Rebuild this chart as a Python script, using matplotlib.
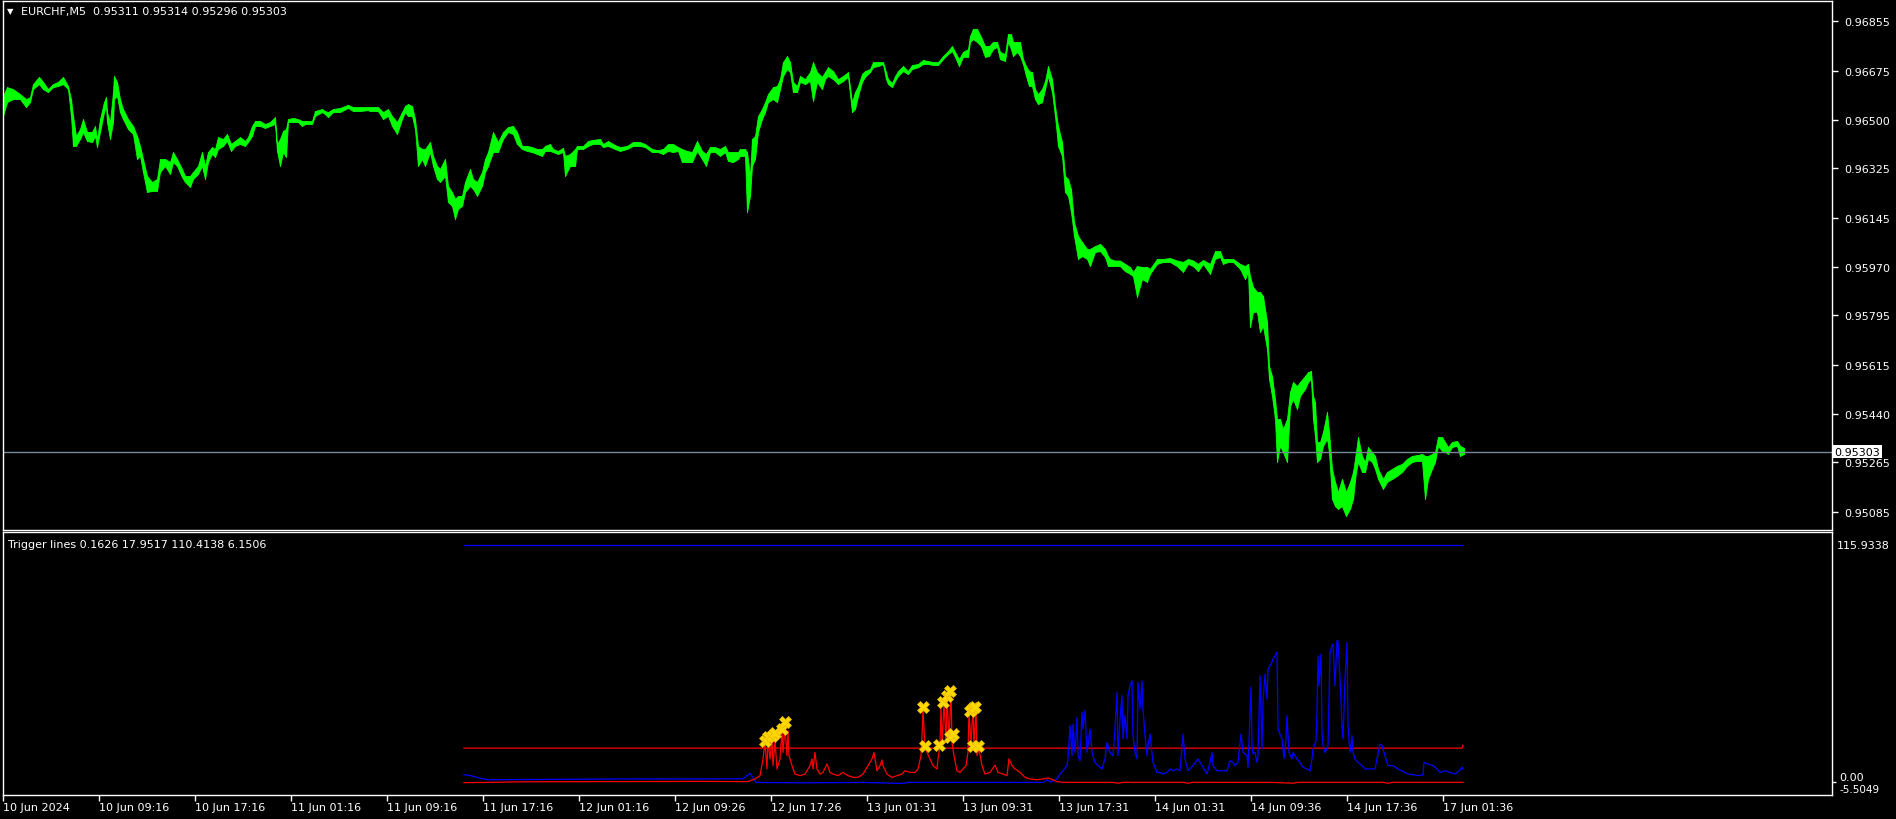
import numpy as np
import matplotlib.pyplot as plt

# EURCHF M5 bars, sampled: (bar index, high, low)
price_rows = [
    (0, 0.96585, 0.96513), (4, 0.96617, 0.96563), (10, 0.96610, 0.96574), (17, 0.96592, 0.96574),
    (23, 0.96574, 0.96545), (27, 0.96581, 0.96563), (30, 0.96628, 0.96610), (36, 0.96654, 0.96628),
    (40, 0.96636, 0.96610), (45, 0.96610, 0.96599), (50, 0.96628, 0.96617), (55, 0.96636, 0.96621),
    (60, 0.96654, 0.96628), (65, 0.96621, 0.96610), (68, 0.96574, 0.96513), (70, 0.96513, 0.96405),
    (73, 0.96441, 0.96405), (77, 0.96466, 0.96430), (80, 0.96502, 0.96455), (84, 0.96455, 0.96423),
    (89, 0.96455, 0.96419), (92, 0.96477, 0.96441), (94, 0.96430, 0.96401), (97, 0.96502, 0.96455),
    (101, 0.96563, 0.96527), (103, 0.96581, 0.96549), (104, 0.96527, 0.96491), (107, 0.96491, 0.96430),
    (110, 0.96599, 0.96491), (111, 0.96657, 0.96574), (114, 0.96636, 0.96585), (117, 0.96574, 0.96527),
    (120, 0.96538, 0.96502), (125, 0.96502, 0.96466), (130, 0.96477, 0.96448), (134, 0.96441, 0.96358),
    (137, 0.96405, 0.96369), (140, 0.96358, 0.96311), (144, 0.96297, 0.96239), (149, 0.96275, 0.96243),
    (154, 0.96286, 0.96243), (157, 0.96358, 0.96311), (162, 0.96358, 0.96333), (167, 0.96347, 0.96304),
    (170, 0.96383, 0.96347), (174, 0.96358, 0.96333), (179, 0.96322, 0.96293), (182, 0.96297, 0.96275),
    (187, 0.96297, 0.96257), (190, 0.96311, 0.96286), (195, 0.96333, 0.96304), (199, 0.96383, 0.96333),
    (202, 0.96333, 0.96286), (205, 0.96383, 0.96347), (209, 0.96401, 0.96376), (212, 0.96394, 0.96365),
    (215, 0.96437, 0.96394), (220, 0.96430, 0.96405), (224, 0.96448, 0.96423), (228, 0.96412, 0.96387),
    (232, 0.96423, 0.96405), (237, 0.96437, 0.96412), (242, 0.96423, 0.96405), (245, 0.96437, 0.96419),
    (249, 0.96477, 0.96441), (252, 0.96495, 0.96477), (257, 0.96495, 0.96477), (262, 0.96484, 0.96470),
    (267, 0.96491, 0.96477), (272, 0.96509, 0.96484), (274, 0.96412, 0.96387), (277, 0.96430, 0.96333),
    (280, 0.96459, 0.96383), (283, 0.96466, 0.96365), (285, 0.96502, 0.96491), (290, 0.96506, 0.96491),
    (295, 0.96502, 0.96491), (299, 0.96495, 0.96477), (302, 0.96495, 0.96484), (309, 0.96495, 0.96484),
    (312, 0.96531, 0.96513), (319, 0.96538, 0.96527), (322, 0.96531, 0.96520), (325, 0.96527, 0.96509),
    (330, 0.96538, 0.96527), (337, 0.96542, 0.96527), (345, 0.96553, 0.96542), (350, 0.96545, 0.96531),
    (357, 0.96545, 0.96531), (365, 0.96545, 0.96534), (367, 0.96545, 0.96531), (375, 0.96545, 0.96531),
    (380, 0.96527, 0.96502), (385, 0.96538, 0.96513), (389, 0.96513, 0.96477), (394, 0.96491, 0.96448),
    (399, 0.96527, 0.96502), (402, 0.96549, 0.96527), (405, 0.96556, 0.96513), (409, 0.96549, 0.96513),
    (412, 0.96502, 0.96466), (415, 0.96405, 0.96333), (419, 0.96394, 0.96358), (422, 0.96394, 0.96333),
    (427, 0.96419, 0.96383), (430, 0.96369, 0.96333), (434, 0.96333, 0.96286), (437, 0.96322, 0.96275),
    (442, 0.96358, 0.96297), (445, 0.96261, 0.96203), (449, 0.96239, 0.96189), (452, 0.96214, 0.96142),
    (455, 0.96225, 0.96178), (459, 0.96225, 0.96189), (462, 0.96275, 0.96239), (467, 0.96322, 0.96261),
    (470, 0.96286, 0.96250), (474, 0.96275, 0.96225), (479, 0.96311, 0.96261), (482, 0.96358, 0.96311),
    (485, 0.96383, 0.96333), (490, 0.96455, 0.96383), (495, 0.96419, 0.96383), (500, 0.96455, 0.96430),
    (505, 0.96473, 0.96455), (510, 0.96477, 0.96448), (514, 0.96455, 0.96412), (519, 0.96405, 0.96394),
    (524, 0.96405, 0.96387), (529, 0.96401, 0.96383), (534, 0.96394, 0.96376), (539, 0.96394, 0.96369),
    (542, 0.96405, 0.96387), (547, 0.96412, 0.96387), (550, 0.96394, 0.96383), (555, 0.96387, 0.96376),
    (560, 0.96398, 0.96383), (562, 0.96369, 0.96297), (567, 0.96376, 0.96333), (572, 0.96394, 0.96333),
    (574, 0.96405, 0.96394), (580, 0.96405, 0.96394), (585, 0.96423, 0.96405), (590, 0.96427, 0.96412),
    (597, 0.96430, 0.96412), (600, 0.96412, 0.96401), (605, 0.96423, 0.96405), (612, 0.96408, 0.96394),
    (617, 0.96401, 0.96387), (624, 0.96405, 0.96394), (630, 0.96419, 0.96405), (637, 0.96419, 0.96405),
    (642, 0.96412, 0.96401), (649, 0.96394, 0.96383), (655, 0.96390, 0.96383), (660, 0.96394, 0.96376),
    (665, 0.96412, 0.96387), (670, 0.96412, 0.96383), (675, 0.96401, 0.96387), (679, 0.96394, 0.96347),
    (684, 0.96387, 0.96347), (689, 0.96383, 0.96347), (694, 0.96423, 0.96387), (699, 0.96387, 0.96358),
    (703, 0.96376, 0.96333), (707, 0.96401, 0.96383), (712, 0.96401, 0.96383), (717, 0.96394, 0.96369),
    (722, 0.96405, 0.96383), (725, 0.96383, 0.96351), (730, 0.96383, 0.96347), (735, 0.96383, 0.96358),
    (737, 0.96394, 0.96369), (742, 0.96394, 0.96369), (744, 0.96383, 0.96167), (747, 0.96297, 0.96225),
    (749, 0.96430, 0.96333), (752, 0.96441, 0.96358), (755, 0.96513, 0.96455), (759, 0.96538, 0.96502),
    (762, 0.96563, 0.96527), (765, 0.96592, 0.96563), (770, 0.96617, 0.96574), (774, 0.96621, 0.96563),
    (777, 0.96646, 0.96610), (780, 0.96707, 0.96657), (784, 0.96729, 0.96682), (787, 0.96707, 0.96671),
    (790, 0.96636, 0.96599), (794, 0.96621, 0.96599), (797, 0.96657, 0.96636), (802, 0.96646, 0.96628),
    (807, 0.96671, 0.96639), (810, 0.96707, 0.96567), (814, 0.96671, 0.96636), (819, 0.96654, 0.96610),
    (822, 0.96671, 0.96646), (825, 0.96689, 0.96657), (830, 0.96675, 0.96646), (835, 0.96646, 0.96628),
    (840, 0.96657, 0.96639), (845, 0.96671, 0.96654), (849, 0.96563, 0.96527), (852, 0.96599, 0.96538),
    (855, 0.96621, 0.96585), (859, 0.96664, 0.96636), (862, 0.96675, 0.96654), (867, 0.96682, 0.96671),
    (870, 0.96707, 0.96689), (875, 0.96707, 0.96693), (880, 0.96707, 0.96700), (883, 0.96671, 0.96646),
    (885, 0.96646, 0.96628), (889, 0.96632, 0.96617), (892, 0.96657, 0.96639), (895, 0.96675, 0.96657),
    (900, 0.96693, 0.96675), (905, 0.96675, 0.96664), (909, 0.96697, 0.96682), (915, 0.96700, 0.96689),
    (920, 0.96715, 0.96700), (925, 0.96711, 0.96700), (930, 0.96707, 0.96697), (935, 0.96707, 0.96697),
    (940, 0.96729, 0.96718), (945, 0.96747, 0.96736), (949, 0.96765, 0.96747), (952, 0.96744, 0.96726),
    (956, 0.96718, 0.96693), (960, 0.96744, 0.96726), (965, 0.96754, 0.96726), (967, 0.96801, 0.96780),
    (970, 0.96827, 0.96790), (974, 0.96827, 0.96780), (978, 0.96798, 0.96765), (982, 0.96765, 0.96726),
    (986, 0.96765, 0.96729), (990, 0.96780, 0.96754), (994, 0.96780, 0.96762), (997, 0.96744, 0.96718),
    (1002, 0.96736, 0.96711), (1005, 0.96808, 0.96780), (1008, 0.96808, 0.96754), (1010, 0.96780, 0.96729),
    (1014, 0.96780, 0.96744), (1017, 0.96780, 0.96729), (1020, 0.96718, 0.96700), (1023, 0.96693, 0.96657),
    (1026, 0.96675, 0.96621), (1029, 0.96671, 0.96621), (1032, 0.96610, 0.96574), (1035, 0.96592, 0.96556),
    (1039, 0.96610, 0.96563), (1042, 0.96639, 0.96610), (1045, 0.96693, 0.96657), (1049, 0.96646, 0.96599),
    (1052, 0.96549, 0.96513), (1055, 0.96477, 0.96405), (1059, 0.96419, 0.96369), (1062, 0.96297, 0.96239),
    (1065, 0.96286, 0.96225), (1068, 0.96250, 0.96167), (1071, 0.96131, 0.96081), (1075, 0.96081, 0.95998),
    (1079, 0.96059, 0.96008), (1084, 0.96034, 0.95998), (1087, 0.96034, 0.95972), (1092, 0.96044, 0.96023),
    (1097, 0.96052, 0.96026), (1102, 0.96034, 0.96005), (1105, 0.96008, 0.95972), (1107, 0.95998, 0.95972),
    (1112, 0.95992, 0.95972), (1117, 0.95992, 0.95972), (1122, 0.95980, 0.95954), (1127, 0.95969, 0.95944),
    (1130, 0.95951, 0.95936), (1134, 0.95972, 0.95861), (1139, 0.95969, 0.95925), (1144, 0.95969, 0.95915),
    (1147, 0.95962, 0.95944), (1154, 0.95998, 0.95980), (1160, 0.95998, 0.95987), (1167, 0.96001, 0.95987),
    (1174, 0.95992, 0.95972), (1180, 0.95987, 0.95951), (1185, 0.95998, 0.95980), (1190, 0.95992, 0.95972),
    (1195, 0.95980, 0.95954), (1200, 0.95994, 0.95980), (1207, 0.95980, 0.95944), (1212, 0.96026, 0.95998),
    (1217, 0.96026, 0.96005), (1220, 0.95998, 0.95980), (1225, 0.95998, 0.95987), (1230, 0.95998, 0.95987),
    (1237, 0.95980, 0.95962), (1242, 0.95972, 0.95925), (1245, 0.95980, 0.95951), (1247, 0.95936, 0.95753),
    (1250, 0.95897, 0.95807), (1254, 0.95879, 0.95807), (1257, 0.95879, 0.95734), (1260, 0.95864, 0.95756),
    (1264, 0.95771, 0.95673), (1266, 0.95612, 0.95565), (1269, 0.95576, 0.95504), (1272, 0.95493, 0.95421),
    (1274, 0.95421, 0.95266), (1277, 0.95421, 0.95324), (1280, 0.95385, 0.95302), (1284, 0.95421, 0.95266),
    (1287, 0.95518, 0.95467), (1290, 0.95554, 0.95493), (1294, 0.95540, 0.95457), (1297, 0.95554, 0.95504),
    (1302, 0.95576, 0.95529), (1305, 0.95590, 0.95554), (1308, 0.95594, 0.95565), (1310, 0.95504, 0.95421),
    (1312, 0.95482, 0.95360), (1314, 0.95338, 0.95266), (1317, 0.95338, 0.95277), (1320, 0.95374, 0.95324),
    (1324, 0.95446, 0.95349), (1326, 0.95374, 0.95302), (1329, 0.95241, 0.95133), (1332, 0.95194, 0.95107),
    (1335, 0.95158, 0.95097), (1339, 0.95205, 0.95107), (1343, 0.95158, 0.95071), (1347, 0.95194, 0.95097),
    (1350, 0.95230, 0.95133), (1353, 0.95302, 0.95230), (1355, 0.95356, 0.95266), (1359, 0.95288, 0.95230),
    (1362, 0.95266, 0.95230), (1365, 0.95320, 0.95277), (1369, 0.95302, 0.95266), (1372, 0.95288, 0.95241),
    (1375, 0.95241, 0.95205), (1380, 0.95205, 0.95169), (1384, 0.95230, 0.95194), (1389, 0.95241, 0.95205),
    (1394, 0.95252, 0.95216), (1399, 0.95259, 0.95230), (1404, 0.95277, 0.95252), (1409, 0.95288, 0.95266),
    (1414, 0.95291, 0.95270), (1419, 0.95295, 0.95270), (1422, 0.95288, 0.95133), (1425, 0.95288, 0.95205),
    (1429, 0.95295, 0.95241), (1432, 0.95302, 0.95266), (1435, 0.95356, 0.95324), (1439, 0.95356, 0.95306),
    (1442, 0.95338, 0.95302), (1445, 0.95320, 0.95295), (1449, 0.95338, 0.95320), (1454, 0.95342, 0.95324),
    (1457, 0.95324, 0.95288), (1461, 0.95317, 0.95295),
]
bid_price = 0.95303
header_text = "EURCHF,M5  0.95311 0.95314 0.95296 0.95303"

# Trigger lines indicator: (bar, value)
red_rows = [
    (461, -0.4), (485, -0.3), (520, 0.0), (600, 0.1), (700, 0.2), (745, 0.1),
    (752, 1.4), (757, 3.0), (760, 11.2), (762, 19.3), (764, 6.3), (765, 21.0), (767, 11.2),
    (769, 21.0), (770, 7.9), (772, 20.1), (774, 6.3), (777, 11.2), (779, 25.0), (780, 14.4),
    (782, 26.7), (784, 12.8), (785, 25.0), (786, 12.8), (789, 7.9), (792, 3.8), (797, 3.0),
    (802, 3.8), (807, 7.9), (809, 11.2), (810, 6.3), (812, 14.4), (814, 6.3), (817, 3.8),
    (820, 4.6), (824, 8.7), (827, 4.6), (830, 3.8), (835, 3.0), (840, 4.6), (845, 3.0),
    (850, 2.2), (855, 2.2), (860, 3.8), (865, 7.9), (869, 11.2), (871, 14.4), (874, 5.4),
    (877, 7.9), (879, 10.7), (880, 7.9), (884, 3.8), (889, 2.2), (894, 3.0), (899, 3.8),
    (902, 5.4), (907, 4.6), (912, 4.6), (915, 6.3), (918, 12.8), (919, 22.6), (920, 35.7),
    (921, 25.9), (922, 16.1), (924, 14.4), (927, 11.2), (930, 7.9), (934, 6.3), (935, 11.2),
    (937, 17.7), (938, 37.3), (939, 17.7), (941, 38.9), (943, 19.3), (944, 42.2), (946, 21.0),
    (948, 43.8), (949, 19.3), (951, 12.8), (954, 5.4), (957, 4.6), (960, 6.3), (963, 7.9),
    (965, 14.4), (966, 34.0), (968, 19.3), (970, 35.7), (971, 17.7), (973, 36.5), (974, 12.8),
    (976, 16.1), (979, 7.9), (982, 3.8), (987, 4.6), (992, 8.2), (995, 4.6), (1000, 3.8),
    (1004, 3.0), (1006, 11.2), (1009, 7.9), (1012, 6.3), (1017, 4.6), (1022, 2.2), (1027, 1.4),
    (1034, 1.0), (1040, 1.4), (1045, 1.9), (1050, 1.0), (1054, 0.1), (1060, -0.25), (1110, -0.3),
    (1115, -0.7), (1120, -0.25), (1180, -0.25), (1185, -0.7), (1190, -0.25), (1270, -0.3),
    (1290, -0.7), (1295, -0.25), (1380, -0.25), (1385, -0.7), (1390, -0.25), (1460, -0.25),
]
blue_rows = [
    (461, 3.5), (468, 3.0), (475, 2.0), (485, 1.0), (550, 1.2), (620, 1.4), (700, 1.4),
    (740, 1.5), (744, 3.0), (747, 4.2), (750, 2.0), (753, -0.3), (800, -0.5), (860, -0.3),
    (900, -0.8), (905, -0.3), (1000, -0.3), (1040, -0.3), (1044, 1.0), (1048, -0.2),
    (1054, 1.4), (1057, 3.8), (1060, 5.4), (1064, 7.9), (1065, 11.2), (1067, 27.5), (1069, 12.8),
    (1070, 28.3), (1072, 14.4), (1074, 31.6), (1075, 12.8), (1077, 10.3), (1079, 34.0),
    (1080, 25.9), (1082, 34.8), (1084, 14.4), (1085, 17.7), (1087, 25.9), (1089, 14.4),
    (1090, 12.8), (1092, 9.5), (1095, 7.9), (1099, 6.3), (1102, 11.2), (1104, 19.3), (1107, 14.4),
    (1110, 12.8), (1112, 25.9), (1114, 43.8), (1115, 12.8), (1117, 30.8), (1119, 42.2),
    (1120, 21.0), (1122, 32.4), (1124, 21.0), (1125, 42.2), (1127, 47.1), (1129, 49.5),
    (1130, 22.6), (1132, 14.4), (1134, 11.2), (1135, 48.7), (1137, 35.7), (1139, 49.5),
    (1140, 35.7), (1142, 22.6), (1144, 12.8), (1145, 17.7), (1147, 23.4), (1149, 14.4),
    (1150, 9.5), (1154, 4.6), (1157, 4.6), (1160, 3.8), (1164, 4.6), (1167, 6.3), (1170, 5.4),
    (1174, 6.3), (1177, 5.4), (1180, 23.4), (1182, 11.2), (1185, 5.4), (1190, 7.9), (1195, 11.2),
    (1199, 7.9), (1204, 3.8), (1207, 9.5), (1209, 14.4), (1210, 7.9), (1214, 5.4), (1219, 5.4),
    (1224, 5.4), (1227, 10.3), (1230, 9.5), (1232, 7.9), (1235, 9.5), (1238, 23.4), (1240, 14.4),
    (1244, 12.8), (1245, 7.1), (1247, 34.0), (1248, 46.3), (1249, 17.7), (1250, 13.6),
    (1252, 14.4), (1254, 9.5), (1255, 12.8), (1257, 52.0), (1259, 16.1), (1260, 38.9),
    (1262, 52.8), (1264, 40.5), (1265, 55.2), (1267, 56.9), (1269, 58.5), (1270, 60.1),
    (1272, 61.7), (1274, 63.4), (1275, 25.9), (1279, 21.0), (1281, 11.2), (1283, 21.0),
    (1284, 32.4), (1286, 14.4), (1289, 11.2), (1290, 14.4), (1294, 11.2), (1297, 9.5),
    (1300, 7.1), (1304, 6.3), (1307, 5.4), (1309, 11.2), (1310, 16.1), (1313, 20.1), (1314, 34.0),
    (1315, 61.7), (1316, 47.1), (1318, 62.5), (1319, 24.2), (1320, 17.7), (1322, 14.4),
    (1325, 17.7), (1327, 63.4), (1329, 66.6), (1330, 67.4), (1332, 47.1), (1334, 69.1),
    (1335, 69.1), (1337, 50.3), (1339, 27.5), (1340, 21.0), (1342, 50.3), (1344, 68.3),
    (1345, 27.5), (1347, 14.4), (1349, 22.6), (1350, 14.4), (1352, 11.2), (1355, 9.5),
    (1359, 7.9), (1362, 6.3), (1367, 6.3), (1372, 6.3), (1374, 11.2), (1377, 18.5), (1379, 17.7),
    (1382, 12.8), (1385, 7.9), (1390, 7.9), (1395, 6.3), (1400, 5.0), (1405, 3.8), (1410, 3.5),
    (1415, 3.0), (1420, 3.3), (1421, 9.5), (1425, 8.7), (1430, 7.9), (1434, 6.3), (1437, 4.6),
    (1442, 5.4), (1447, 4.6), (1452, 3.8), (1456, 5.4), (1459, 7.1), (1460, 6.15),
]
star_rows = [
    (762, 20.0), (765, 21.9), (769, 22.4), (772, 24.0), (779, 25.9), (782, 29.3),
    (920, 36.6), (922, 17.5), (936, 18.0), (940, 39.1), (944, 42.0), (947, 44.5),
    (947, 21.9), (950, 23.5), (967, 34.7), (970, 36.0), (972, 36.6), (970, 17.5), (975, 17.5),
]
trigger_bars = [461, 1459, 1460]
trigger_vals = [16.5, 16.5, 17.9517]
top_bars = [461, 1460]
top_vals = [115.9338, 115.9338]
ind_max, ind_min = 115.9338, -5.5049
ind_text = "Trigger lines 0.1626 17.9517 110.4138 6.1506"

price_ticks = [0.96855, 0.96675, 0.96500, 0.96325, 0.96145, 0.95970,
               0.95795, 0.95615, 0.95440, 0.95265, 0.95085]
time_labels = ["10 Jun 2024", "10 Jun 09:16", "10 Jun 17:16", "11 Jun 01:16", "11 Jun 09:16",
               "11 Jun 17:16", "12 Jun 01:16", "12 Jun 09:26", "12 Jun 17:26", "13 Jun 01:31",
               "13 Jun 09:31", "13 Jun 17:31", "14 Jun 01:31", "14 Jun 09:36", "14 Jun 17:36",
               "17 Jun 01:36"]
bars_per_label = 96


def style_axes(ax):
    ax.set_facecolor("black")
    for s in ax.spines.values():
        s.set_color("white")
        s.set_linewidth(1)


def main():
    plt.rcParams["font.family"] = ["DejaVu Sans"]
    W, H = 1896, 820
    fig = plt.figure(figsize=(W / 100, H / 100), dpi=100, facecolor="black")
    ax = fig.add_axes([3 / W, 1 - 531 / H, 1829 / W, 529 / H])
    sub = fig.add_axes([3 / W, 1 - 796 / H, 1829 / W, 263 / H], sharex=ax)
    style_axes(ax)
    style_axes(sub)

    pb, ph, pl = np.array(price_rows).T
    ax.fill_between(pb, pl, ph, color="#00ff00", edgecolor="#00ff00", linewidth=0.6)
    ax.vlines(pb, pl, ph, color="#00ff00", lw=0.8)
    ax.axhline(bid_price, color="#778899", lw=1)
    ax.set_xlim(0, 1829)
    ax.set_ylim(0.950209, 0.969274)
    ax.yaxis.tick_right()
    ax.set_yticks(price_ticks, [f"{v:.5f}" for v in price_ticks])
    ax.tick_params(axis="y", colors="white", labelsize=8, length=4, width=1, pad=5)
    ax.tick_params(axis="x", bottom=False, labelbottom=False)
    ax.text(1.0012, bid_price, f"{bid_price:.5f}", transform=ax.get_yaxis_transform(),
            color="black", fontsize=8, va="center", ha="left",
            bbox=dict(facecolor="white", edgecolor="none", pad=1.2))

    rb, rv = np.array(red_rows).T
    bb, bv = np.array(blue_rows).T
    sb, sv = np.array(star_rows).T
    sub.plot(top_bars, top_vals, color="#0000ff", lw=0.9)
    sub.plot(trigger_bars, trigger_vals, color="#ff0000", lw=0.9)
    sub.plot(bb, bv, color="#0000ff", lw=0.9)
    sub.plot(rb, rv, color="#ff0000", lw=0.9)
    sub.plot(sb, sv, ls="none", marker="X", ms=8, color="#ffd700", mec="#e6b800", mew=0.5)
    sub.set_ylim(-6.46, 122.33)
    sub.yaxis.tick_right()
    sub.set_yticks([0], ["0.00"])
    sub.tick_params(axis="y", colors="white", labelsize=8, length=3, width=1, pad=2)
    for lab in sub.get_yticklabels():
        lab.set_va("bottom")
    tr = sub.get_yaxis_transform()
    sub.text(1.0025, ind_max, f"{ind_max:.4f}", transform=tr, color="white", fontsize=8,
             va="center", ha="left")
    sub.text(1.0042, -6.0, f"{ind_min:.4f}", transform=tr, color="white", fontsize=7.5,
             va="bottom", ha="left")

    ticks = [i * bars_per_label for i in range(len(time_labels))]
    sub.set_xticks(ticks, time_labels)
    sub.tick_params(axis="x", colors="white", labelsize=8, length=4, width=1, pad=1)
    for lab in sub.get_xticklabels():
        lab.set_ha("left")

    fig.text(7 / W, 1 - 12 / H, "\u25bc", color="white", fontsize=6, va="center", ha="left")
    fig.text(21 / W, 1 - 12 / H, header_text, color="white", fontsize=8, va="center", ha="left")
    fig.text(8 / W, 1 - 545 / H, ind_text, color="white", fontsize=8, va="center", ha="left")

    fig.savefig("out.png", dpi=100, facecolor="black")


if __name__ == "__main__":
    main()
